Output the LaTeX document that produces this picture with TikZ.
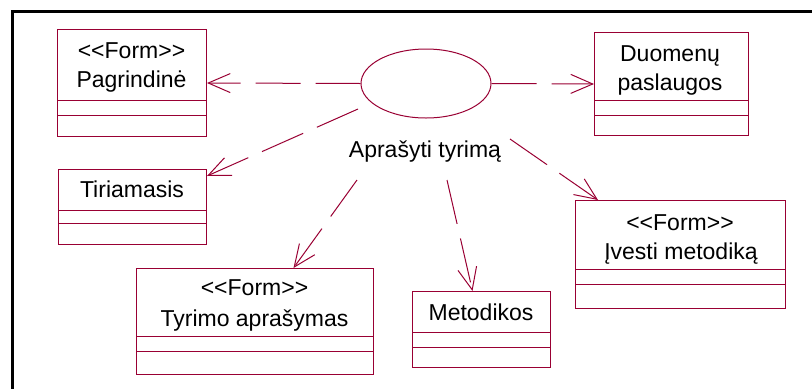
\documentclass[tikz,border=0pt]{standalone}
\usepackage{fontspec}
\setmainfont{Liberation Sans}
\usetikzlibrary{arrows.meta,shapes.geometric}
\definecolor{umlred}{RGB}{153,0,51}

% stereotype text, with the angle brackets kept apart from the TeX ligatures
\newcommand\stereo[1]{<{}<#1>{}>}

% class box: outer rectangle plus the two compartment dividers
% #1 name, #2 x left, #3 y top, #4 x right, #5 y bottom, #6/#7 divider y
\newcommand\umlclass[7]{%
  \pgfmathsetmacro\clsw{#4-#2}\pgfmathsetmacro\clsh{#5-#3}%
  \node[classbox,minimum width=\clsw pt,minimum height=\clsh pt] (#1) at (#2,#3) {};
  \draw[umlline] (#2,#6) -- (#4,#6) (#2,#7) -- (#4,#7);
}

\begin{document}
\begin{tikzpicture}[x=1pt,y=-1pt,
  umlline/.style={draw=umlred,line width=1pt},
  classbox/.style={umlline,rectangle,inner sep=0pt,anchor=north west},
  txt/.style={font=\fontsize{23}{28}\selectfont,anchor=base,inner sep=0pt,text=black},
  dep/.style={umlline,dash pattern=on 45pt off 15pt,
    -{Straight Barb[length=22pt,width=19pt,line width=1pt]}}]
\useasboundingbox (0,0) rectangle (812,389);

% frame
\draw[line width=3.5pt,black] (812,11.5) -- (12.5,11.5) -- (12.5,389);

% use case
\node[umlline,ellipse,minimum width=130pt,minimum height=69pt,inner sep=0pt] (uc) at (426,83.5) {};
\node[txt] (uclbl) at (425,157) {Aprašyti tyrimą};

% classes
\umlclass{pag}{57}{29}{206}{136}{100}{115}
\node[txt] (pagS) at (131.5,58) {\stereo{Form}};
\node[txt] (pagN) at (131.5,87) {Pagrindinė};

\umlclass{duo}{594}{32}{748}{135}{100}{115}
\node[txt] (duoN1) at (670,61.5) {Duomenų};
\node[txt] (duoN2) at (670,90) {paslaugos};

\umlclass{tir}{58}{169}{206}{244}{210}{223}
\node[txt] (tirN) at (132,197) {Tiriamasis};

\umlclass{tyr}{136}{268}{373}{374}{336}{351}
\node[txt] (tyrS) at (254.5,295) {\stereo{Form}};
\node[txt] (tyrN) at (254.5,326.5) {Tyrimo aprašymas};

\umlclass{met}{412}{291}{550}{367}{332}{347}
\node[txt] (metN) at (481,320.5) {Metodikos};

\umlclass{ive}{575}{200}{785}{308}{269}{284}
\node[txt] (iveS) at (680,230) {\stereo{Form}};
\node[txt] (iveN) at (681,259) {Įvesti metodiką};

% dependencies
\draw[dep] (uc.west) -- (pag.east);
\draw[dep] (uc.east) -- (duo.west);
\draw[dep] ([xshift=-68pt,yshift=-25.5pt]uc.center) -- ([yshift=-7pt]tir.north east);
\draw[dep] ([xshift=-68pt,yshift=-23pt]uclbl.base) -- ([xshift=38.5pt]tyr.north);
\draw[dep] ([xshift=22pt,yshift=-23pt]uclbl.base) -- ([xshift=-9pt]met.north);
\draw[dep] ([xshift=85pt,yshift=18pt]uclbl.base) -- ([xshift=23pt]ive.north west);
\end{tikzpicture}
\end{document}
